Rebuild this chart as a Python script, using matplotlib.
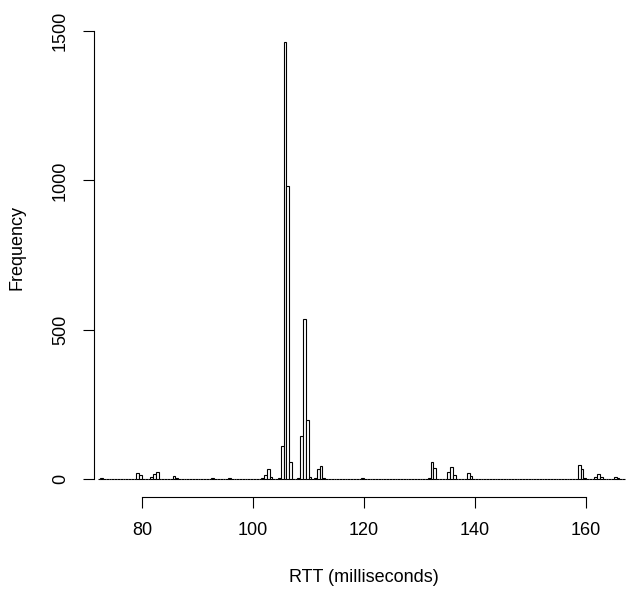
import numpy as np
import matplotlib
matplotlib.use("Agg")
import matplotlib.pyplot as plt

plt.rcParams['font.family'] = ['Liberation Sans', 'DejaVu Sans']

# histogram of round-trip times, 0.5 ms bins from 72 to 167 ms
bin_lo, bin_hi, bin_width = 72.0, 167.0, 0.5

# left edges of the non-empty bins and their counts
busy_bins = [72.5, 74.0, 76.5, 79.0, 79.5, 81.5, 82.0, 82.5, 85.5, 86.0,
             89.0, 92.5, 95.5, 98.0, 101.5, 102.0, 102.5, 103.0, 104.5,
             105.0, 105.5, 106.0, 106.5, 107.0, 108.0, 108.5, 109.0, 109.5,
             110.0, 111.0, 111.5, 112.0, 112.5, 115.5, 119.5, 125.0,
             131.5, 132.0, 132.5, 135.0, 135.5, 136.0, 138.5, 139.0,
             142.0, 145.5, 152.5, 158.5, 159.0, 159.5, 161.5, 162.0, 162.5,
             165.0, 165.5]
busy_counts = [4, 1, 1, 19, 14, 5, 17, 22, 11, 4,
               1, 2, 2, 1, 2, 13, 32, 7, 3,
               112, 1462, 980, 57, 1, 3, 143, 535, 198,
               7, 3, 34, 43, 3, 1, 2, 1,
               2, 57, 38, 22, 41, 13, 20, 10,
               1, 1, 1, 48, 35, 3, 7, 18, 8,
               5, 3]

x_ticks = [80, 100, 120, 140, 160]
y_ticks = [0, 500, 1000, 1500]

edges = np.arange(bin_lo, bin_hi + 1e-9, bin_width)
counts = np.zeros(len(edges) - 1)
for b, c in zip(busy_bins, busy_counts):
    counts[int(round((b - bin_lo) / bin_width))] = c

fig = plt.figure(figsize=(6.33, 5.89), dpi=100)
ax = fig.add_axes([94 / 633, 92 / 589, 539 / 633, 471 / 589])

ax.bar(edges[:-1], counts, width=bin_width, align='edge',
       facecolor='white', edgecolor='black', linewidth=0.8)

ax.set_xlim(71.35, 168.45)
ax.set_ylim(-60.3, 1516.7)

for side in ('top', 'right'):
    ax.spines[side].set_visible(False)
ax.spines['left'].set_bounds(0, 1500)
ax.spines['bottom'].set_bounds(80, 160)
for side in ('left', 'bottom'):
    ax.spines[side].set_linewidth(0.8)

ax.set_xticks(x_ticks)
ax.set_yticks(y_ticks)
ax.set_yticklabels([str(v) for v in y_ticks], rotation=90, va='center')
ax.tick_params(length=8, width=0.8, labelsize=13, pad=10)

fig.text(363.5 / 633, 1 - 578 / 589, 'RTT (milliseconds)', fontsize=13,
         ha='center', va='center')
fig.text(17 / 633, 1 - 248 / 589, 'Frequency', fontsize=13, rotation=90,
         ha='center', va='center')

fig.savefig('out.png', dpi=100)
